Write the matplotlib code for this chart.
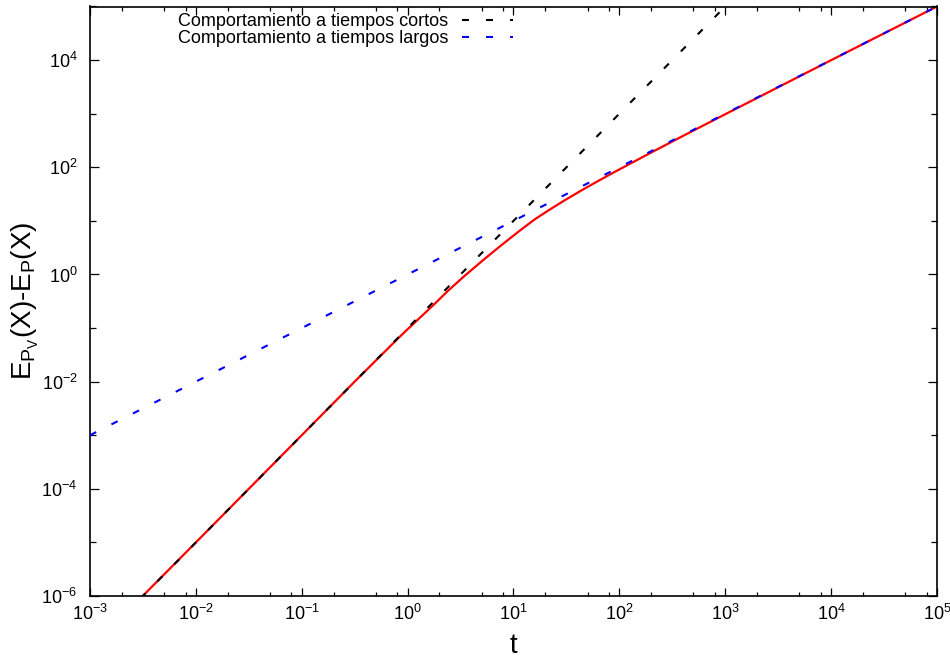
import matplotlib
matplotlib.use("Agg")
import matplotlib.pyplot as plt
from matplotlib.ticker import LogLocator, FixedLocator, NullFormatter

plt.rcParams['font.family'] = ['Liberation Sans', 'DejaVu Sans']
plt.rcParams['mathtext.fontset'] = 'custom'
plt.rcParams['mathtext.rm'] = 'Liberation Sans'
plt.rcParams['mathtext.it'] = 'Liberation Sans:italic'
plt.rcParams['mathtext.bf'] = 'Liberation Sans:bold'
plt.rcParams['lines.scale_dashes'] = False

# ---- data ----
t_red = [0.003, 0.01, 0.1, 0.316, 0.845, 1.0, 1.69, 2.42, 3.48, 5.18, 7.45,
         11.5, 15.8, 21.4, 30.2, 44.0, 63.1, 90.6, 187, 386, 1000, 1e4, 1e5]
y_red = [9.1e-7, 1e-5, 1e-3, 0.0100, 0.0692, 0.095, 0.251, 0.501, 0.955, 1.86, 3.35,
         6.61, 10.6, 15.7, 24.0, 37.2, 55.6, 82.2, 176, 372, 977, 9960, 1e5]

t_short = [0.003, 1000]
y_short = [9.0e-7, 1e5]

t_long = [1e-3, 1e5]
y_long = [1e-3, 1e5]

label_short = "Comportamiento a tiempos cortos"
label_long = "Comportamiento a tiempos largos"

fig = plt.figure(figsize=(9.5, 6.57), dpi=100)
ax = fig.add_axes([90/950, 1 - 596/657, (937-90)/950, (596-6.5)/657])

ax.plot(t_red, y_red, color='red', lw=1.6, zorder=2)
l1, = ax.plot(t_short, y_short, color='black', lw=1.5, dashes=(5, 12.3), zorder=3)
l2, = ax.plot(t_long, y_long, color='blue', lw=1.5, dashes=(5, 12.3), zorder=3)

ax.set_xscale('log')
ax.set_yscale('log')
ax.set_xlim(1e-3, 1e5)
ax.set_ylim(1e-6, 1e5)

ax.xaxis.set_major_locator(LogLocator(base=10, numticks=20))
ax.xaxis.set_minor_locator(LogLocator(base=10, subs=(2, 5, 8), numticks=20))
ax.xaxis.set_minor_formatter(NullFormatter())

ymaj = [10.0**k for k in range(-6, 6, 2)]
ymin = [10.0**k for k in range(-5, 6, 2)]
ax.yaxis.set_major_locator(FixedLocator(ymaj))
ax.yaxis.set_minor_locator(FixedLocator(ymin))
ax.yaxis.set_minor_formatter(NullFormatter())
ax.set_yticklabels([r'$10^{%d}$' % k for k in range(-6, 6, 2)])
ax.set_xticks([10.0**k for k in range(-3, 6)])
ax.set_xticklabels([r'$10^{%d}$' % k for k in range(-3, 6)])

ax.tick_params(axis='both', which='both', direction='in', top=True, right=True,
               labelsize=13, width=0.9)
ax.tick_params(axis='x', which='major', length=5.8, pad=6)
ax.tick_params(axis='x', which='minor', length=3.0)
ax.tick_params(axis='y', which='major', length=6.3, pad=9)
ax.tick_params(axis='y', which='minor', length=4.0)

for s in ax.spines.values():
    s.set_linewidth(1.2)

ax.set_xlabel('t', fontsize=20, labelpad=6)
ax.set_ylabel(r'E$_{\mathrm{P}_{\mathrm{V}}}$(X)-E$_{\mathrm{P}}$(X)', fontsize=20, labelpad=0)

leg = ax.legend([l1, l2], [label_short, label_long], loc='upper right',
                bbox_to_anchor=((513-90)/847, 1 - (13-6.5)/589.5),
                frameon=False, markerfirst=False, fontsize=13,
                handlelength=2.83, handletextpad=0.76, labelspacing=0.02,
                borderpad=0, borderaxespad=0)

fig.savefig('out.png', dpi=100)
